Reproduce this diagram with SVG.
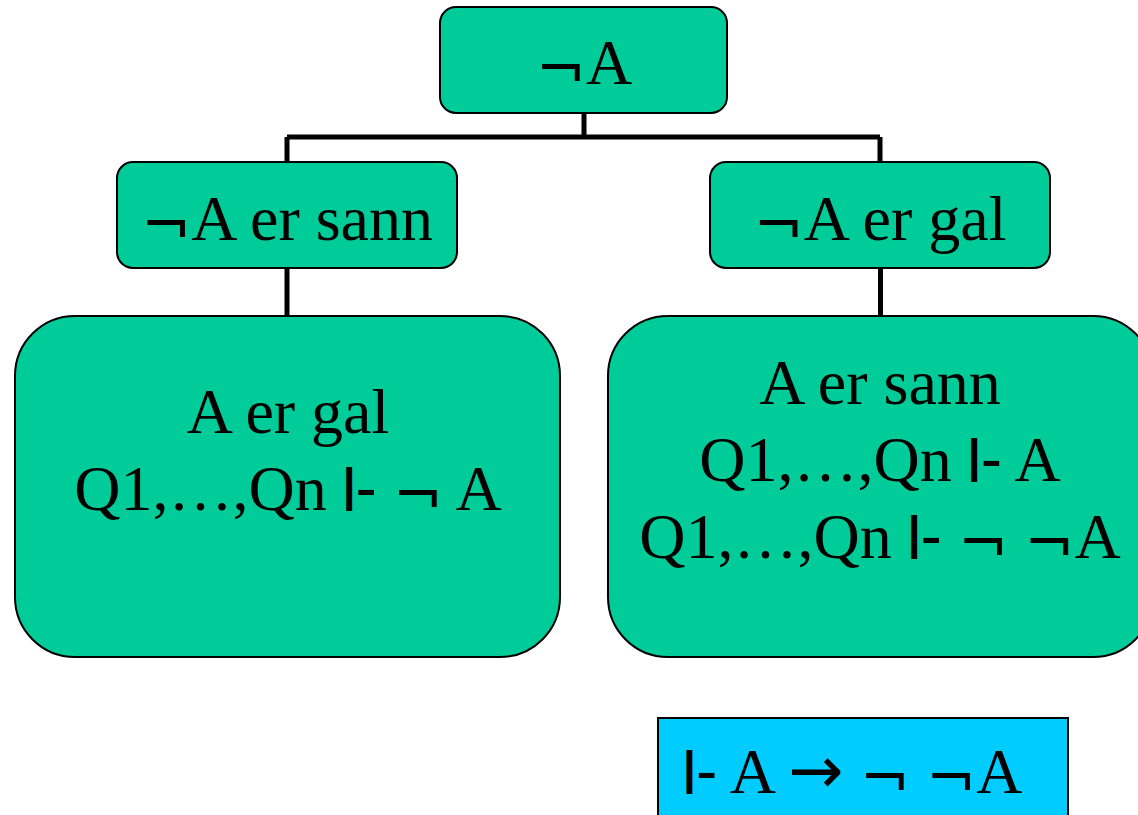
<svg xmlns="http://www.w3.org/2000/svg" width="1138" height="815" viewBox="0 0 1138 815">
<style>
.box{fill:#00CC99;stroke:#000;stroke-width:2}
.note{fill:#00CCFF;stroke:#000;stroke-width:2}
.t{font-family:"Liberation Serif","Times New Roman",serif;font-size:64px;fill:#000;text-anchor:middle}
.ts{font-family:"Liberation Sans",Arial,sans-serif}
.bar{font-family:"Liberation Sans",Arial,sans-serif;font-size:46px;font-weight:bold}
.n{font-family:"DejaVu Sans",sans-serif;font-size:60px}
.ar{font-family:"DejaVu Sans",sans-serif;font-size:66px}
.c{stroke:#000;stroke-width:5;fill:none}
</style>
<rect width="1138" height="815" fill="#fff"/>
<g id="connectors">
<path class="c" d="M584 113V137M287 137H880M287 137V162M880 137V162"/>
<path class="c" d="M287 268V316M880.5 268V316"/>
</g>
<g id="root">
<rect class="box" x="440" y="7" width="287" height="106" rx="16"/>
<text class="t" x="584" y="84"><tspan class="n" dy="6">¬</tspan><tspan dy="-6">A</tspan></text>
</g>
<g id="sann">
<rect class="box" x="117" y="162" width="340" height="106" rx="16"/>
<text class="t" x="287" y="240"><tspan class="n" dy="6">¬</tspan><tspan dy="-6">A er sann</tspan></text>
</g>
<g id="gal">
<rect class="box" x="710" y="162" width="340" height="106" rx="16"/>
<text class="t" x="880" y="240"><tspan class="n" dy="6">¬</tspan><tspan dy="-6">A er gal</tspan></text>
</g>
<g id="left">
<rect class="box" x="15" y="316" width="545" height="341" rx="60"/>
<text class="t" x="288" y="433">A er gal</text>
<text class="t" x="288" y="510">Q1,…,Qn <tspan class="bar" dy="-9">|</tspan><tspan class="ts" dy="9">-</tspan> <tspan class="n" dy="6">¬</tspan><tspan dy="-6"> A</tspan></text>
</g>
<g id="right">
<rect class="box" x="608" y="316" width="545" height="341" rx="60"/>
<text class="t" x="880" y="404">A er sann</text>
<text class="t" x="880" y="481">Q1,…,Qn <tspan class="bar" dy="-9">|</tspan><tspan class="ts" dy="9">-</tspan> A</text>
<text class="t" x="880" y="558">Q1,…,Qn <tspan class="bar" dy="-9">|</tspan><tspan class="ts" dy="9">-</tspan> <tspan class="n" dy="6">¬</tspan><tspan dy="-6"> </tspan><tspan class="n" dy="6">¬</tspan><tspan dy="-6">A</tspan></text>
</g>
<g id="theorem">
<rect class="note" x="658" y="718" width="410" height="110"/>
<text class="t" x="683" y="793" style="text-anchor:start"><tspan class="bar" dy="-9">|</tspan><tspan class="ts" dy="9">-</tspan> A <tspan class="ar">→</tspan> <tspan class="n" dy="6">¬</tspan><tspan dy="-6"> </tspan><tspan class="n" dy="6">¬</tspan><tspan dy="-6">A</tspan></text>
</g>
</svg>
